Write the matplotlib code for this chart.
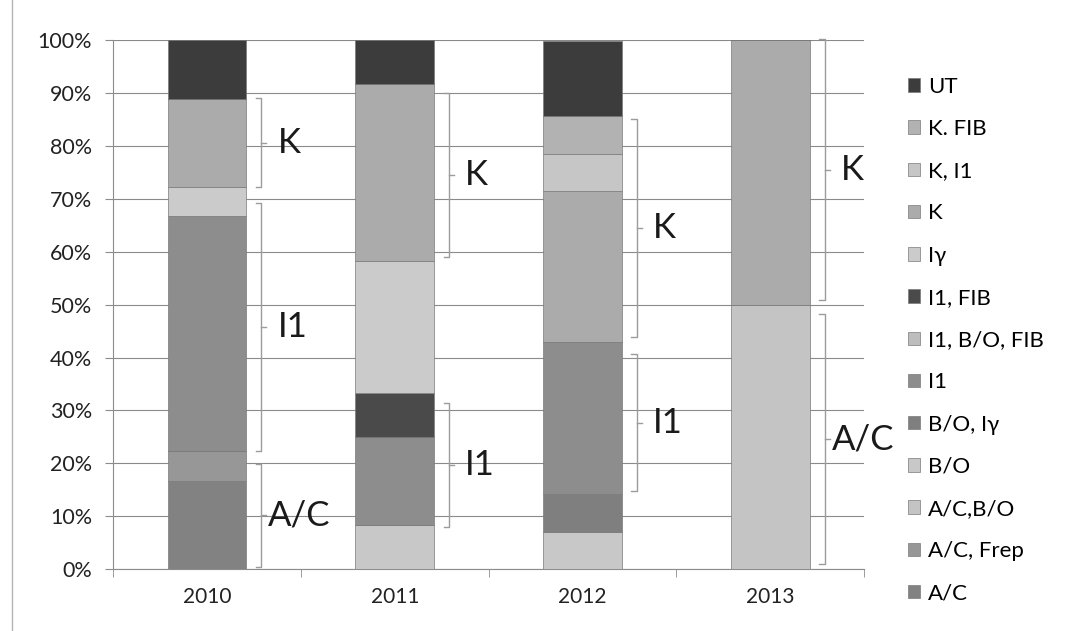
import matplotlib.pyplot as plt
from matplotlib.lines import Line2D
import numpy as np

plt.rcParams['font.family'] = ['Lato', 'DejaVu Sans']

years = ['2010', '2011', '2012', '2013']
groups = ['A/C', 'A/C, Frep', 'A/C,B/O', 'B/O', 'B/O, Iγ', 'I1', 'I1, B/O, FIB',
          'I1, FIB', 'Iγ', 'K', 'K, I1', 'K. FIB', 'UT']
colors = ['#828282', '#979797', '#c4c4c4', '#c8c8c8', '#7f7f7f', '#8d8d8d', '#bdbdbd',
          '#4a4a4a', '#cbcbcb', '#ababab', '#c6c6c6', '#b2b2b2', '#3c3c3c']

# share of cases per year (%), stacked bottom -> top in legend order
ac = [16.7, 0, 0, 0]
ac_frep = [5.6, 0, 0, 0]
ac_bo = [0, 0, 0, 50.0]
bo = [0, 8.3, 7.1, 0]
bo_ig = [0, 0, 7.2, 0]
i1 = [44.4, 16.7, 28.6, 0]
i1_bo_fib = [0, 0, 0, 0]
i1_fib = [0, 8.3, 0, 0]
ig = [5.6, 25.0, 0, 0]
k = [16.6, 33.4, 28.5, 50.0]
k_i1 = [0, 0, 7.1, 0]
k_fib = [0, 0, 7.1, 0]
ut = [11.1, 8.3, 14.3, 0]
series = [ac, ac_frep, ac_bo, bo, bo_ig, i1, i1_bo_fib, i1_fib, ig, k, k_i1, k_fib, ut]

# brackets: year index, low %, high %, label
brackets = [
    (0, 72.2, 89.0, 'K'), (0, 22.3, 69.2, 'I1'), (0, 0.5, 19.8, 'A/C'),
    (1, 59.0, 90.0, 'K'), (1, 8.0, 31.4, 'I1'),
    (2, 43.9, 85.0, 'K'), (2, 14.7, 40.6, 'I1'),
    (3, 50.8, 100.2, 'K'), (3, 0.9, 48.3, 'A/C'),
]

fig = plt.figure(figsize=(10.67, 6.31), dpi=100)
ax = fig.add_axes([0.106, 0.098, 0.704, 0.8385])

x = np.arange(len(years))
bottom = np.zeros(len(years))
bars = []
for name, vals, c in zip(groups, series, colors):
    b = ax.bar(x, vals, 0.42, bottom=bottom, color=c, edgecolor='#7a7a7a',
               linewidth=0.5, label=name, zorder=3)
    bars.append(b)
    bottom += np.array(vals)

for i, lo, hi, lab in brackets:
    bx = i + 0.29
    ax.plot([bx - 0.03, bx, bx, bx - 0.03], [lo, lo, hi, hi], color='#9c9c9c',
            lw=1, zorder=4, clip_on=False)
    mid = (lo + hi) / 2
    ax.plot([bx, bx + 0.025], [mid, mid], color='#9c9c9c', lw=1, zorder=4,
            clip_on=False)
    off = 0.035 if lab == 'A/C' else 0.085
    ax.text(bx + off, mid, lab, fontsize=25, color='#1a1a1a', ha='left',
            va='center', zorder=5)

ax.set_xlim(-0.5, 3.5)
ax.set_ylim(0, 100)
ax.set_xticks(x)
ax.set_xticklabels(years, fontsize=15, color='#222222')
ax.set_xticks(np.arange(-0.5, 4.0, 1.0), minor=True)
ax.tick_params(axis='x', which='major', length=0, pad=13)
ax.tick_params(axis='x', which='minor', length=6, color='#8c8c8c', direction='out')
ax.set_yticks(np.arange(0, 101, 10))
ax.set_yticklabels([f'{v}%' for v in range(0, 101, 10)], fontsize=15.5, color='#222222')
ax.tick_params(axis='y', length=6, color='#8c8c8c', direction='out', pad=9)
ax.yaxis.grid(True, color='#8a8a8a', lw=0.8, zorder=0)
ax.set_axisbelow(True)
for s in ['top', 'right']:
    ax.spines[s].set_visible(False)
for s in ['left', 'bottom']:
    ax.spines[s].set_color('#8c8c8c')
    ax.spines[s].set_linewidth(0.8)

fig.legend(handles=bars[::-1], labels=groups[::-1], loc='upper left',
           bbox_to_anchor=(0.832, 0.91), frameon=False, fontsize=16,
           handlelength=0.55, handleheight=0.55, handletextpad=0.35,
           labelspacing=1.0)

fig.add_artist(Line2D([0.011, 0.011], [0, 1], color='#b5b5b5', lw=1))

fig.savefig('out.png', dpi=100)
